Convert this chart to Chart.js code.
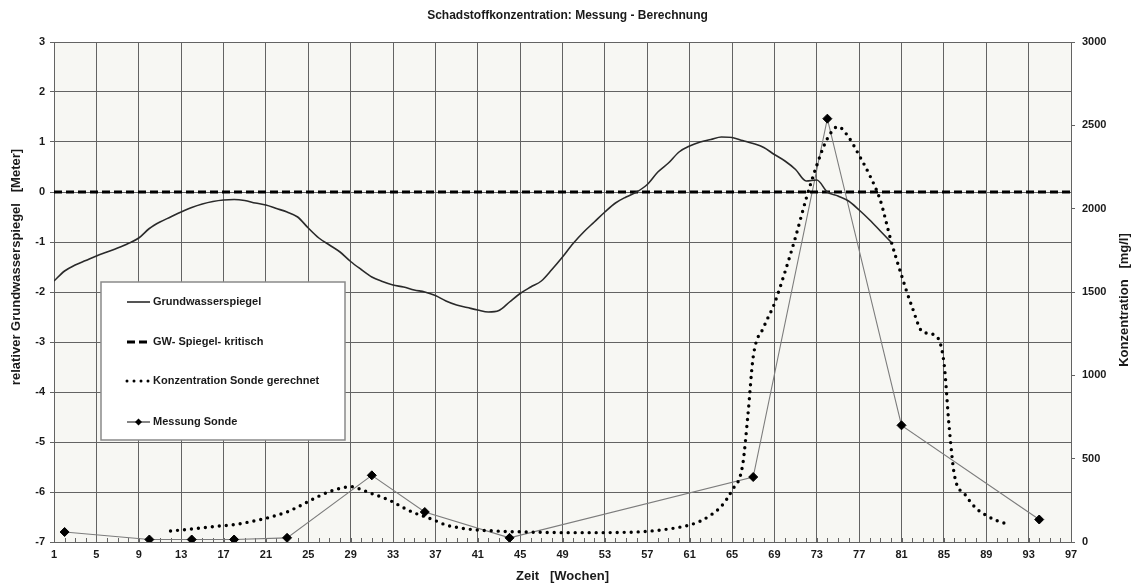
<!DOCTYPE html>
<html lang="de">
<head>
<meta charset="utf-8">
<title>Schadstoffkonzentration: Messung - Berechnung</title>
<script src="https://cdn.jsdelivr.net/npm/chart.js@4/dist/chart.umd.min.js"></script>
<style>
  html, body { margin: 0; padding: 0; background: #ffffff; }
  canvas { display: block; }
</style>
</head>
<body>
<canvas id="chart" width="1135" height="586"></canvas>
<script>
// Grundwasserspiegel (relative Höhe in Meter) je Woche
const gwWochen = [1,2,3,4,5,6,7,8,9,10,11,12,13,14,15,16,17,18,19,20,
  21,22,23,24,25,26,27,28,29,30,31,32,33,34,35,36,37,38,39,40,
  41,42,43,44,45,46,47,48,49,50,51,52,53,54,55,56,57,58,59,60,
  61,62,63,64,65,66,67,68,69,70,71,72,73,74,75,76,77,78,79,80];
const gwPegel = [-1.78,-1.58,-1.46,-1.37,-1.28,-1.20,-1.12,-1.03,-0.92,-0.73,
  -0.60,-0.50,-0.40,-0.31,-0.24,-0.19,-0.16,-0.15,-0.17,-0.22,
  -0.26,-0.33,-0.40,-0.50,-0.72,-0.92,-1.06,-1.20,-1.39,-1.55,
  -1.70,-1.79,-1.86,-1.90,-1.96,-2.00,-2.07,-2.18,-2.26,-2.31,
  -2.36,-2.40,-2.37,-2.20,-2.03,-1.90,-1.78,-1.55,-1.30,-1.03,
  -0.80,-0.60,-0.40,-0.22,-0.10,0.00,0.15,0.40,0.58,0.80,
  0.92,1.00,1.05,1.10,1.09,1.03,0.97,0.89,0.75,0.62,
  0.45,0.22,0.24,0.00,-0.08,-0.18,-0.36,-0.56,-0.78,-1.00];

// kritischer Grundwasserspiegel
const kritischWochen = [1, 97];
const kritischPegel = [0, 0];

// berechnete Konzentration an der Sonde [mg/l]
const konzWochen = [12,13,14,15,16,17,18,19,20,21,22,23,24,25,26,27,28,29,30,31,
  32,33,34,35,36,37,38,39,40,41,42,43,44,45,46,47,48,49,50,51,
  52,53,54,55,56,57,58,59,60,61,62,63,64,65,66,66.5,67,68,69,70,
  71,72,73,74,75,76,77,78,79,80,81,82,83,84,85,85.5,86,87,88,89,90,91];
const konzWerte = [66,72,78,85,92,98,104,115,128,142,160,180,210,243,275,302,322,332,315,290,
  268,240,205,175,152,128,102,88,78,72,68,65,62,61,59,58,57,56,56,56,
  56,56,57,58,60,64,70,78,88,102,125,162,215,310,460,760,1110,1290,1430,1620,
  1830,2060,2260,2420,2492,2430,2320,2200,2050,1810,1600,1410,1260,1245,1080,690,400,285,205,160,128,108];

// gemessene Konzentration an der Sonde [mg/l]
const messWochen = [2,10,14,18,23,31,36,44,67,74,81,94];
const messWerte = [60,15,15,15,25,400,180,25,390,2540,700,135];

// Achsenbeschriftungen
const xTicks = [1,5,9,13,17,21,25,29,33,37,41,45,49,53,57,61,65,69,73,77,81,85,89,93,97];
const pegelTicks = [-7,-6,-5,-4,-3,-2,-1,0,1,2,3];
const konzTicks = [0,500,1000,1500,2000,2500,3000];

const FONT = '"Liberation Sans", Arial, Helvetica, sans-serif';
const TEXT = '#1a1a1a';
const GRID = '#636363';

const toPoints = (xs, ys) => xs.map((x, i) => ({ x: x, y: ys[i] }));
const setTicks = (values) => (scale) => { scale.ticks = values.map(v => ({ value: v })); };
const plainNumber = (v) => String(v);

Chart.defaults.font.family = FONT;
Chart.defaults.color = TEXT;

// light plot background
const plotBackground = {
  id: 'plotBackground',
  beforeDraw(chart) {
    const { ctx, chartArea: a } = chart;
    ctx.save();
    ctx.fillStyle = '#f7f7f3';
    ctx.fillRect(a.left, a.top, a.right - a.left, a.bottom - a.top);
    ctx.restore();
  }
};

// small weekly tick marks along the time axis
const weekTicks = {
  id: 'weekTicks',
  beforeDatasetsDraw(chart) {
    const { ctx, chartArea: a, scales } = chart;
    const x = scales.x;
    ctx.save();
    ctx.strokeStyle = GRID;
    ctx.lineWidth = 1;
    ctx.beginPath();
    for (let w = Math.ceil(x.min); w <= x.max; w++) {
      const px = Math.round(x.getPixelForValue(w)) + 0.5;
      ctx.moveTo(px, a.bottom);
      ctx.lineTo(px, a.bottom - 4);
    }
    ctx.stroke();
    ctx.restore();
  }
};

// vertical axis titles, both reading bottom to top
const axisTitles = {
  id: 'axisTitles',
  afterDraw(chart) {
    const { ctx } = chart;
    const titles = [
      { text: 'relativer Grundwasserspiegel   [Meter]', x: 16.5, y: 267 },
      { text: 'Konzentration   [mg/l]', x: 1124, y: 300 }
    ];
    ctx.save();
    ctx.fillStyle = TEXT;
    ctx.font = 'bold 13px ' + FONT;
    ctx.textAlign = 'center';
    ctx.textBaseline = 'middle';
    titles.forEach(t => {
      ctx.save();
      ctx.translate(t.x, t.y);
      ctx.rotate(-Math.PI / 2);
      ctx.fillText(t.text, 0, 0);
      ctx.restore();
    });
    ctx.restore();
  }
};

// framed legend inside the plot, built from the dataset styles
const boxLegend = {
  id: 'boxLegend',
  afterDatasetsDraw(chart) {
    const { ctx } = chart;
    const box = { left: 101, top: 282, width: 244, height: 158 };
    const rows = [302, 342, 381, 422];
    const x0 = 127, x1 = 150, textX = 153;
    ctx.save();
    ctx.fillStyle = '#ffffff';
    ctx.fillRect(box.left, box.top, box.width, box.height);
    ctx.strokeStyle = '#8a8a8a';
    ctx.lineWidth = 1.5;
    ctx.strokeRect(box.left, box.top, box.width, box.height);
    ctx.font = 'bold 11px ' + FONT;
    ctx.textBaseline = 'middle';
    chart.data.datasets.forEach((ds, i) => {
      const y = rows[i];
      ctx.save();
      ctx.strokeStyle = ds.legendColor || ds.borderColor;
      ctx.lineWidth = Math.min(ds.borderWidth, 3);
      ctx.setLineDash(ds.borderDash || []);
      ctx.lineCap = ds.borderCapStyle || 'butt';
      ctx.beginPath();
      ctx.moveTo(x0, y);
      ctx.lineTo(x1, y);
      ctx.stroke();
      if (ds.pointRadius > 0) {
        const r = ds.pointRadius - 1;
        const cx = (x0 + x1) / 2;
        ctx.setLineDash([]);
        ctx.fillStyle = ds.pointBackgroundColor;
        ctx.beginPath();
        ctx.moveTo(cx, y - r);
        ctx.lineTo(cx + r, y);
        ctx.lineTo(cx, y + r);
        ctx.lineTo(cx - r, y);
        ctx.closePath();
        ctx.fill();
      }
      ctx.restore();
      ctx.fillStyle = TEXT;
      ctx.fillText(ds.label, textX, y);
    });
    ctx.restore();
  }
};

new Chart(document.getElementById('chart'), {
  type: 'line',
  data: {
    datasets: [
      {
        label: 'Grundwasserspiegel',
        data: toPoints(gwWochen, gwPegel),
        yAxisID: 'yPegel',
        borderColor: '#2a2a2a',
        borderWidth: 1.6,
        pointRadius: 0,
        cubicInterpolationMode: 'monotone'
      },
      {
        label: 'GW- Spiegel- kritisch',
        data: toPoints(kritischWochen, kritischPegel),
        yAxisID: 'yPegel',
        borderColor: '#000000',
        borderWidth: 3,
        borderDash: [8, 4],
        pointRadius: 0
      },
      {
        label: 'Konzentration Sonde gerechnet',
        data: toPoints(konzWochen, konzWerte),
        yAxisID: 'yKonz',
        borderColor: '#000000',
        borderWidth: 3.4,
        borderDash: [0, 7],
        borderCapStyle: 'round',
        pointRadius: 0,
        cubicInterpolationMode: 'monotone'
      },
      {
        label: 'Messung Sonde',
        data: toPoints(messWochen, messWerte),
        yAxisID: 'yKonz',
        borderColor: '#7c7c7c',
        legendColor: '#222222',
        borderWidth: 1.1,
        pointStyle: 'rectRot',
        pointRadius: 4.5,
        pointBackgroundColor: '#000000',
        pointBorderColor: '#000000',
        pointBorderWidth: 1
      }
    ]
  },
  options: {
    responsive: false,
    animation: false,
    events: [],
    layout: { padding: 0 },
    plugins: {
      legend: { display: false },
      tooltip: { enabled: false },
      title: {
        display: true,
        text: 'Schadstoffkonzentration: Messung - Berechnung',
        color: TEXT,
        font: { size: 12, weight: 'bold', lineHeight: 1.2 },
        padding: { top: 8, bottom: 19.6 }
      }
    },
    scales: {
      x: {
        type: 'linear',
        position: 'bottom',
        min: 1,
        max: 97,
        afterBuildTicks: setTicks(xTicks),
        afterFit: (s) => { s.height = 44; },
        ticks: { font: { size: 11, weight: 'bold' }, color: TEXT, padding: 6, autoSkip: false, maxRotation: 0, callback: plainNumber },
        grid: { color: GRID, lineWidth: 1, drawTicks: false },
        border: { color: GRID, width: 1 },
        title: {
          display: true,
          text: 'Zeit   [Wochen]',
          color: TEXT,
          font: { size: 13, weight: 'bold', lineHeight: 1.2 },
          padding: { top: 0, bottom: 2.2 }
        }
      },
      yPegel: {
        type: 'linear',
        position: 'left',
        min: -7,
        max: 3,
        afterBuildTicks: setTicks(pegelTicks),
        afterFit: (s) => { s.width = 54; },
        ticks: { font: { size: 11, weight: 'bold' }, color: TEXT, padding: 5, callback: plainNumber },
        grid: { color: GRID, lineWidth: 1, tickLength: 4 },
        border: { color: GRID, width: 1 }
      },
      yKonz: {
        type: 'linear',
        position: 'right',
        min: 0,
        max: 3000,
        afterBuildTicks: setTicks(konzTicks),
        afterFit: (s) => { s.width = 64; },
        ticks: { font: { size: 11, weight: 'bold' }, color: TEXT, padding: 7, callback: plainNumber },
        grid: { drawOnChartArea: false, color: GRID, lineWidth: 1, tickLength: 4 },
        border: { color: GRID, width: 1 }
      }
    }
  },
  plugins: [plotBackground, weekTicks, boxLegend, axisTitles]
});
</script>
</body>
</html>
